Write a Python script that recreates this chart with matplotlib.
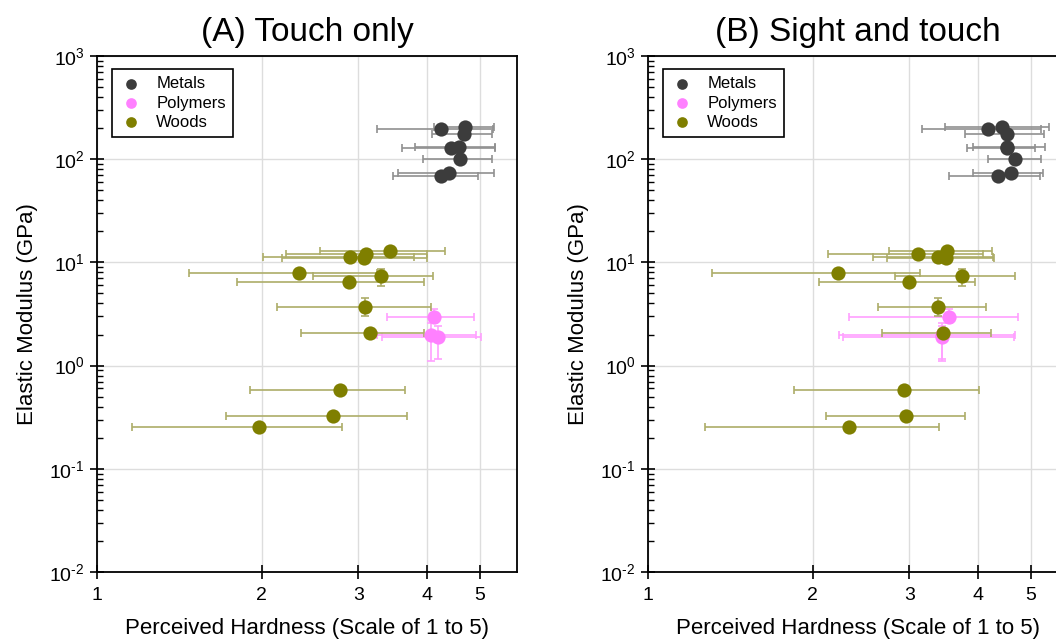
import numpy as np
import matplotlib
matplotlib.use("Agg")
import matplotlib.pyplot as plt
from matplotlib.ticker import LogLocator, FixedLocator, FixedFormatter, NullLocator, FuncFormatter

plt.rcParams['font.family'] = ['Liberation Sans', 'DejaVu Sans']
plt.rcParams['axes.unicode_minus'] = False

# elastic modulus (GPa), same in both panels
metals_y = [197, 205, 176, 128, 132, 100, 69, 74]
woods_y = [13.0, 12.1, 11.2, 11.0, 7.96, 7.4, 6.43, 3.73, 2.09, 0.58, 0.326, 0.256]
polymers_y = [2.98, 1.98, 1.88]

# vertical spread (low, high) of modulus, only where visible
woods_ylo = [13.0, 12.1, 11.2, 11.0, 7.96, 5.9, 6.43, 3.0, 2.09, 0.58, 0.326, 0.256]
woods_yhi = [13.0, 12.1, 11.2, 11.0, 7.96, 8.6, 6.43, 4.5, 2.09, 0.58, 0.326, 0.256]
polymers_ylo = [2.6, 1.1, 1.15]
polymers_yhi = [3.5, 2.6, 2.4]

# (A) touch only: perceived hardness mean, low and high
a_metals_x = [4.25, 4.71, 4.69, 4.44, 4.58, 4.60, 4.25, 4.39]
a_metals_lo = [3.24, 4.12, 4.09, 3.60, 3.81, 3.94, 3.47, 3.54]
a_metals_hi = [5.29, 5.30, 5.27, 5.34, 5.34, 5.27, 4.96, 5.30]
a_woods_x = [3.43, 3.10, 2.90, 3.07, 2.34, 3.30, 2.88, 3.09, 3.15, 2.78, 2.70, 1.98]
a_woods_lo = [2.55, 2.21, 2.01, 2.18, 1.47, 2.48, 1.80, 2.13, 2.36, 1.90, 1.72, 1.16]
a_woods_hi = [4.33, 4.00, 3.80, 4.00, 3.25, 4.11, 3.95, 4.07, 3.95, 3.66, 3.68, 2.80]
a_polymers_x = [4.13, 4.07, 4.19]
a_polymers_lo = [3.38, 3.24, 3.31]
a_polymers_hi = [4.88, 4.93, 5.03]

# (B) sight and touch
b_metals_x = [4.18, 4.44, 4.53, 4.53, 4.53, 4.69, 4.36, 4.60]
b_metals_lo = [3.16, 3.49, 3.80, 3.82, 3.92, 4.17, 3.54, 3.92]
b_metals_hi = [5.23, 5.41, 5.29, 5.10, 5.31, 5.23, 5.19, 5.27]
b_woods_x = [3.51, 3.11, 3.39, 3.50, 2.22, 3.74, 3.00, 3.38, 3.46, 2.93, 2.96, 2.33]
b_woods_lo = [2.76, 2.13, 2.58, 2.73, 1.31, 2.82, 2.05, 2.63, 2.68, 1.85, 2.11, 1.27]
b_woods_hi = [4.25, 4.10, 4.26, 4.28, 3.14, 4.68, 3.96, 4.15, 4.24, 4.02, 3.80, 3.40]
b_polymers_x = [3.54, 3.45, 3.45]
b_polymers_lo = [2.33, 2.23, 2.27]
b_polymers_hi = [4.74, 4.68, 4.67]

titles = ["(A) Touch only", "(B) Sight and touch"]
x_ticks = [1, 2, 3, 4, 5]

colors = {"Metals": "#3c3c3c", "Polymers": "#ff80ff", "Woods": "#7f7f00"}
bar_colors = {"Metals": "#909090", "Polymers": "#ffa0ff", "Woods": "#adad68"}


def spread(x, lo, hi):
    x = np.array(x)
    return [x - np.array(lo), np.array(hi) - x]


def pow_label(v, pos):
    e = int(round(np.log10(v)))
    s = str(e).replace('-', '\u2010')
    return r'$\mathdefault{10^{%s}}$' % s


def draw(ax, title, sets):
    for name, x, lo, hi, y, ylo, yhi in sets:
        yerr = None
        if ylo is not None:
            yerr = spread(y, ylo, yhi)
        ax.errorbar(x, y, xerr=spread(x, lo, hi), yerr=yerr, fmt='none',
                    ecolor=bar_colors[name], elinewidth=1.2, capsize=3,
                    capthick=1.2, zorder=2)
    for name, x, lo, hi, y, ylo, yhi in sets:
        ax.scatter(x, y, s=105, color=colors[name], label=name, zorder=3,
                   linewidths=0)

    ax.set_xscale('log')
    ax.set_yscale('log')
    ax.set_xlim(1, 5.85)
    ax.set_ylim(1e-2, 1e3)
    ax.xaxis.set_major_locator(FixedLocator(x_ticks))
    ax.xaxis.set_major_formatter(FixedFormatter([str(t) for t in x_ticks]))
    ax.xaxis.set_minor_locator(NullLocator())
    ax.yaxis.set_major_locator(LogLocator(base=10, numticks=10))
    ax.yaxis.set_major_formatter(FuncFormatter(pow_label))
    ax.yaxis.set_minor_locator(LogLocator(base=10, subs=np.arange(2, 10), numticks=20))
    ax.tick_params(axis='x', which='major', direction='inout', length=10,
                   width=1.2, labelsize=14, pad=6)
    ax.tick_params(axis='y', which='major', direction='inout', length=10,
                   width=1.2, labelsize=14, pad=4)
    ax.tick_params(axis='y', which='minor', direction='in', length=4, width=1)
    ax.grid(True, which='major', color='#dddddd', linewidth=1)
    ax.set_axisbelow(True)
    for sp in ax.spines.values():
        sp.set_linewidth(1.3)
    ax.set_title(title, fontsize=24, pad=11)
    ax.set_xlabel("Perceived Hardness (Scale of 1 to 5)", fontsize=16, labelpad=10)
    ax.set_ylabel("Elastic Modulus (GPa)", fontsize=16, labelpad=8)
    leg = ax.legend(loc='upper left', bbox_to_anchor=(0.036, 0.975), borderaxespad=0,
                    fontsize=12, markerscale=0.75, handletextpad=0.85, labelspacing=0.25,
                    fancybox=False, edgecolor='black', framealpha=1,
                    borderpad=0.45, handlelength=1.35)
    leg.get_frame().set_linewidth(1.2)


fig = plt.figure(figsize=(10.56, 6.43), dpi=100)
ax_a = fig.add_axes([97 / 1056, 1 - 572 / 643, 420 / 1056, 516 / 643])
ax_b = fig.add_axes([648 / 1056, 1 - 572 / 643, 420 / 1056, 516 / 643])

draw(ax_a, titles[0], [
    ("Metals", a_metals_x, a_metals_lo, a_metals_hi, metals_y, None, None),
    ("Polymers", a_polymers_x, a_polymers_lo, a_polymers_hi, polymers_y, polymers_ylo, polymers_yhi),
    ("Woods", a_woods_x, a_woods_lo, a_woods_hi, woods_y, woods_ylo, woods_yhi),
])
draw(ax_b, titles[1], [
    ("Metals", b_metals_x, b_metals_lo, b_metals_hi, metals_y, None, None),
    ("Polymers", b_polymers_x, b_polymers_lo, b_polymers_hi, polymers_y, polymers_ylo, polymers_yhi),
    ("Woods", b_woods_x, b_woods_lo, b_woods_hi, woods_y, woods_ylo, woods_yhi),
])

fig.savefig("out.png", dpi=100)
